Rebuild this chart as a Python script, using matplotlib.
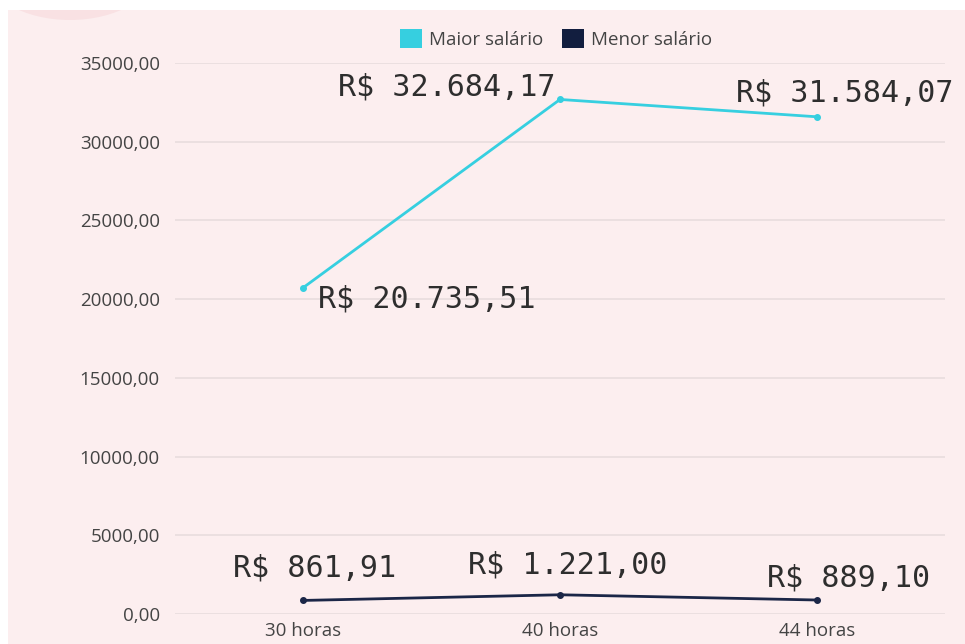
import matplotlib.pyplot as plt
from matplotlib.patches import Patch, Ellipse, Rectangle

categories = ["30 horas", "40 horas", "44 horas"]
maior = [20735.51, 32684.17, 31584.07]
menor = [861.91, 1221.00, 889.10]
maior_labels = ["R$ 20.735,51", "R$ 32.684,17", "R$ 31.584,07"]
menor_labels = ["R$ 861,91", "R$ 1.221,00", "R$ 889,10"]
yticks = [0, 5000, 10000, 15000, 20000, 25000, 30000, 35000]

BG = "#FCEEEF"
CYAN = "#36CFE0"
NAVY = "#1B2647"

fig = plt.figure(figsize=(9.65, 6.44), dpi=100, facecolor=BG)

# white border strip + faint decorative blob at top left
fig.patches.append(Rectangle((0, 1 - 10 / 644), 1, 10 / 644, transform=fig.transFigure,
                             facecolor="white", edgecolor="none", zorder=-5))
fig.patches.append(Rectangle((0, 0), 8 / 965, 1, transform=fig.transFigure,
                             facecolor="white", edgecolor="none", zorder=-5))
fig.patches.append(Ellipse((70 / 965, 1 + 30 / 644), 170 / 965, 100 / 644,
                           transform=fig.transFigure, facecolor="#F9E1E3",
                           edgecolor="none", zorder=-6))

ax = fig.add_axes([175 / 965, 30 / 644, 770 / 965, 551 / 644])
ax.set_facecolor("none")
x = list(range(len(categories)))

ax.plot(x, maior, color=CYAN, lw=2.0, marker="o", ms=4, zorder=3, clip_on=False)
ax.plot(x, menor, color=NAVY, lw=2.0, marker="o", ms=4, zorder=3, clip_on=False)

ax.set_xlim(-0.5, 2.5)
ax.set_ylim(0, 35000)
ax.set_yticks(yticks)
ax.set_yticklabels([f"{v},00" for v in yticks])
ax.set_xticks(x)
ax.set_xticklabels(categories)
ax.grid(axis="y", color="#E8DCDD", lw=1.2)
ax.set_axisbelow(True)
for s in ax.spines.values():
    s.set_visible(False)
ax.tick_params(length=0, labelsize=13.5, labelcolor="#444444")
ax.tick_params(axis="y", pad=11)
ax.tick_params(axis="x", pad=6)
for t in ax.get_xticklabels() + ax.get_yticklabels():
    t.set_fontfamily("Open Sans")

lab_kw = dict(textcoords="offset pixels", fontsize=21.6, color="#2E2E2E",
              family="DejaVu Sans Mono", va="baseline")
# maior salario labels
ax.annotate(maior_labels[0], (x[0], maior[0]), xytext=(15, -20), ha="left", **lab_kw)
ax.annotate(maior_labels[1], (x[1], maior[1]), xytext=(-4, 4), ha="right", **lab_kw)
ax.annotate(maior_labels[2], (x[2], maior[2]), xytext=(28, 15), ha="center", **lab_kw)
# menor salario labels
ax.annotate(menor_labels[0], (x[0], menor[0]), xytext=(11, 24), ha="center", **lab_kw)
ax.annotate(menor_labels[1], (x[1], menor[1]), xytext=(8, 21), ha="center", **lab_kw)
ax.annotate(menor_labels[2], (x[2], menor[2]), xytext=(32, 14), ha="center", **lab_kw)

handles = [Patch(facecolor=CYAN, edgecolor="none", label="Maior salário"),
           Patch(facecolor="#121E3F", edgecolor="none", label="Menor salário")]
fig.legend(handles=handles, loc="center", bbox_to_anchor=(556 / 965, 1 - 39 / 644),
           ncol=2, frameon=False, handlelength=1.2, handleheight=1.2,
           handletextpad=0.35, columnspacing=1.0,
           prop={"family": "Open Sans", "size": 13.5}, labelcolor="#444444")

fig.savefig("out.png", dpi=100, facecolor=BG)
